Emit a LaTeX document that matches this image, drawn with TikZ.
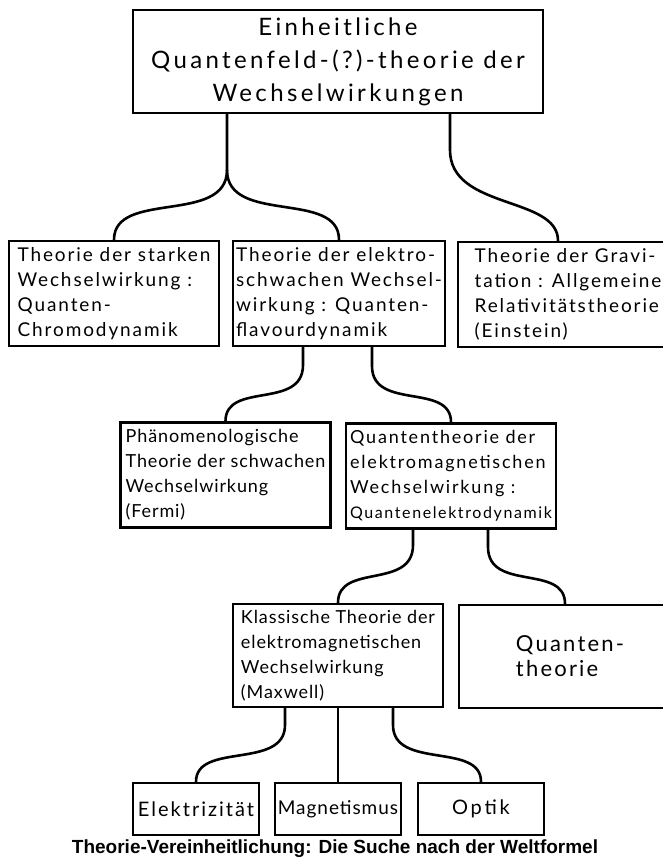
\documentclass[tikz,border=0pt]{standalone}
\usepackage{fontspec}
\setmainfont{Lato}[LetterSpace=5.0]
\newfontfamily\handwide{Lato}[LetterSpace=10.0]
\newfontfamily\handwider{Lato}[LetterSpace=14.0]
\setsansfont{Liberation Sans}
\tikzset{
  thnode/.style = {draw=black, line width=2.6pt, inner sep=3pt, align=left,
                   font=\fontsize{18}{25}\selectfont},
  th_big/.style = {thnode, align=center, font=\handwider\fontsize{24}{33}\selectfont,
                   minimum width=410pt, minimum height=103pt},
  th_row/.style = {thnode, minimum width=210pt, minimum height=105pt},
  th_wide/.style = {font=\handwide\fontsize{19}{25}\selectfont},
  th_leaf/.style = {thnode, minimum width=126pt, minimum height=52pt},
  branch/.style = {line width=2.6pt, line cap=round, line join=round},
}

\begin{document}
\begin{tikzpicture}[x=1pt, y=-1pt]
  \useasboundingbox (0,0) rectangle (663,861);

  % boxes
  \node [th_big] (top) at (338,61.5) {Einheitliche\\Quantenfeld-(?)-theorie der\\Wechselwirkungen};

  \node [th_row, th_wide] (starke) at (114,293.5) {Theorie der starken\\Wechselwirkung :\\Quanten-\\Chromodynamik};
  \node [th_row, th_wide] (elschw) at (339,293.5) {Theorie der elektro-\\schwachen Wechsel-\\wirkung : Quanten-\\flavourdynamik};
  \node [th_row, th_wide, minimum width=220pt] (grav) at (568,294.5) {Theorie der Gravi-\\tation : Allgemeine\\Relativitätstheorie\\(Einstein)};

  \node [th_row] (fermi) at (225.5,475) {Phänomenologische\\Theorie der schwachen\\Wechselwirkung\\(Fermi)};
  \node [th_row, font=\handwide\fontsize{18}{25}\selectfont] (qed) at (451,476) {Quantentheorie der\\elektromagnetischen\\Wechselwirkung :\\{\fontsize{16}{25}\selectfont Quantenelektrodynamik}};

  \node [th_row, minimum height=103pt] (maxwell) at (338,655.5) {Klassische Theorie der\\elektromagnetischen\\Wechselwirkung\\(Maxwell)};
  \node [th_row, minimum width=222pt, minimum height=103pt,
         font=\handwide\fontsize{22}{25}\selectfont] (qth) at (570,656.5) {Quanten-\\theorie};

  \node [th_leaf, font=\handwide\fontsize{20}{25}\selectfont] (elek) at (196,809) {Elektrizität};
  \node [th_leaf, font=\fontsize{19}{25}\selectfont] (magn) at (338,809) {Magnetismus};
  \node [th_leaf, font=\handwider\fontsize{20}{25}\selectfont] (optik) at (481,809) {Optik};

  \node [font=\sffamily\bfseries\fontsize{19}{21}\selectfont] (caption) at (335,849)
    {Theorie-Vereinheitlichung: Die Suche nach der Weltformel};

  % branch points
  \coordinate (s1) at (227,170);
  \coordinate (s2) at (450,150);
  \coordinate (s3) at (303,365);
  \coordinate (s4) at (372,366);
  \coordinate (s5) at (413,545);
  \coordinate (s6) at (488,547);
  \coordinate (s7) at (285,725);
  \coordinate (s8) at (393,725);

  % connectors
  \draw [branch] (top.south -| s1) -- (s1) .. controls +(0,55) and +(0,-50) .. (starke.north);
  \draw [branch] (s1) .. controls +(0,55) and +(0,-50) .. (elschw.north);
  \draw [branch] (top.south -| s2) -- (s2) .. controls +(0,60) and +(0,-45) .. ([xshift=-10pt]grav.north);

  \draw [branch] (elschw.south -| s3) -- (s3) .. controls +(0,45) and +(0,-40) .. (fermi.north);
  \draw [branch] (elschw.south -| s4) -- (s4) .. controls +(0,45) and +(0,-40) .. (qed.north);

  \draw [branch] (qed.south -| s5) -- (s5) .. controls +(0,45) and +(0,-40) .. (maxwell.north);
  \draw [branch] (qed.south -| s6) -- (s6) .. controls +(0,45) and +(0,-40) .. ([xshift=-5pt]qth.north);

  \draw [branch] (maxwell.south -| s7) -- (s7) .. controls +(0,45) and +(0,-40) .. (elek.north);
  \draw [branch] (maxwell.south) -- (magn.north);
  \draw [branch] (maxwell.south -| s8) -- (s8) .. controls +(0,45) and +(0,-40) .. (optik.north);
\end{tikzpicture}
\end{document}
